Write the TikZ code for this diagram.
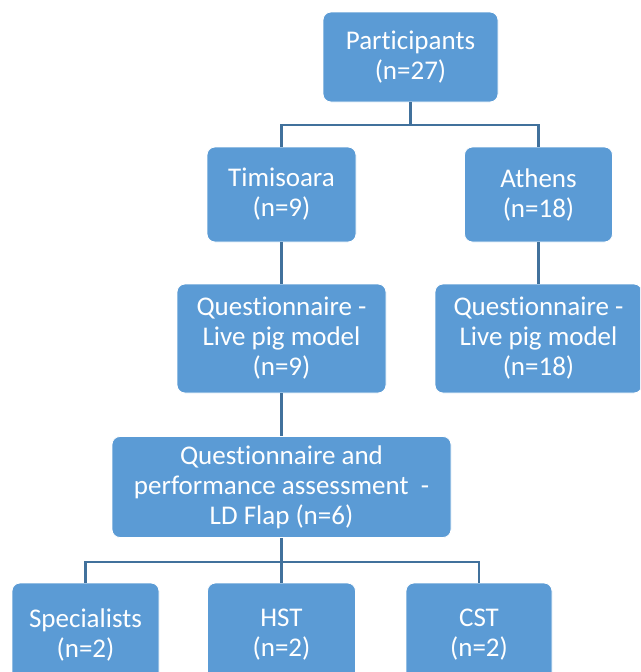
\documentclass[tikz,border=0pt]{standalone}
\usepackage{fontspec}
\setmainfont{Carlito}[Ligatures=NoCommon]
\definecolor{boxblue}{HTML}{5B9BD5}
\definecolor{lineblue}{HTML}{41719C}
\begin{document}
\begin{tikzpicture}[x=1pt,y=-1pt,
  box/.style={draw=white, line width=0.8pt, fill=boxblue, rounded corners=8pt,
    text=white, align=center, font=\fontsize{27}{30}\selectfont, inner sep=0pt,
    execute at begin node={\rule{0pt}{26pt}}},
  conn/.style={draw=lineblue, line width=2.2pt}]
\useasboundingbox (0,0) rectangle (640,672);
\clip (0,0) rectangle (640,672);
\node[box, minimum width=175pt, minimum height=90pt] (P) at (410.5,57) {Participants\\(n=27)};
\node[box, minimum width=149pt, minimum height=95pt] (T) at (281.5,194.5) {Timisoara\\(n=9)};
\node[box, minimum width=148pt, minimum height=95pt] (A) at (538.5,194.5) {Athens\\(n=18)};
\node[box, minimum width=209pt, minimum height=109pt] (Q1) at (281.5,338.5) {Questionnaire -\\Live pig model\\(n=9)};
\node[box, minimum width=207pt, minimum height=109pt] (Q2) at (538.5,338.5) {Questionnaire -\\Live pig model\\(n=18)};
\node[box, minimum width=339pt, minimum height=101pt] (LD) at (281.5,487) {Questionnaire and\\performance assessment\ \ -\\LD Flap (n=6)};
\node[box, minimum width=147pt, minimum height=104pt] (S) at (85.5,635) {Specialists\\(n=2)};
\node[box, minimum width=148pt, minimum height=104pt] (H) at (281.5,635) {HST\\(n=2)};
\node[box, minimum width=146pt, minimum height=104pt] (C) at (479,635) {CST\\(n=2)};
\coordinate (j1) at (410.5,125);
\coordinate (j2) at (281.5,562);
\draw[conn] (P.south) -- (j1);
\draw[conn] (T.north) |- (j1) -| (A.north);
\draw[conn] (T.south) -- (Q1.north);
\draw[conn] (A.south) -- (Q2.north);
\draw[conn] (Q1.south) -- (LD.north);
\draw[conn] (LD.south) -- (j2);
\draw[conn] (S.north) |- (j2) -| (C.north);
\draw[conn] (j2) -- (H.north);
\end{tikzpicture}
\end{document}
